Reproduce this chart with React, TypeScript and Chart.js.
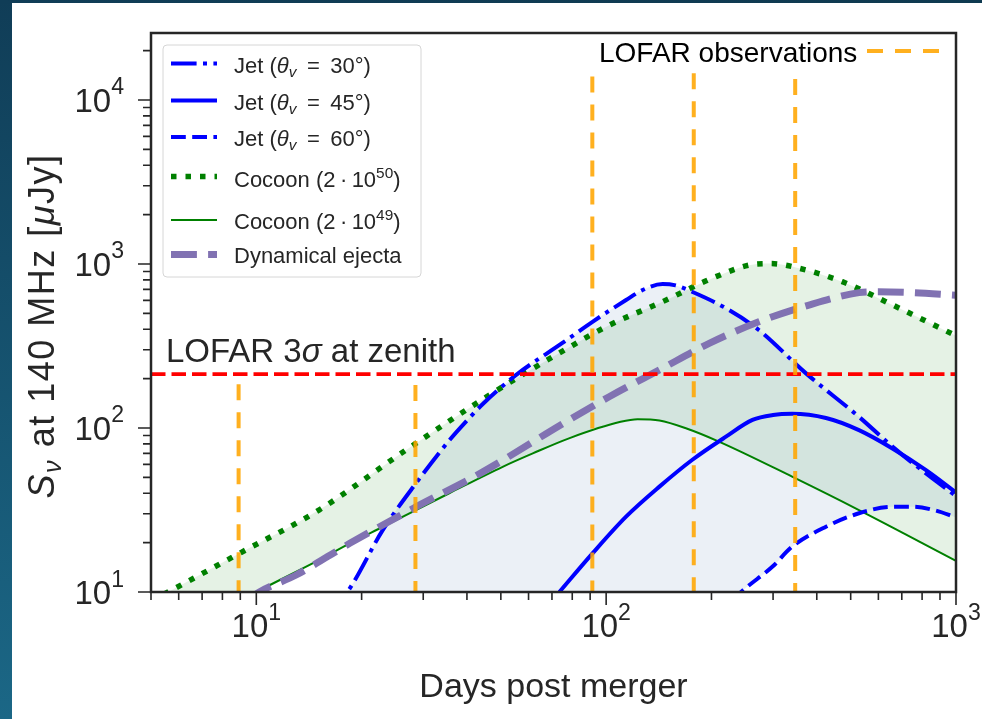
import React, { useEffect, useRef } from 'react';
import { Chart, registerables } from 'chart.js';

Chart.register(...registerables);

// ---------------- data ----------------
const jet30Days = [16, 18.2, 23, 28.6, 35.6, 40, 44.4, 55.2, 75, 91.4, 114, 127, 145, 158, 176, 220, 273, 372, 528, 658, 819, 1000];
const jet30Flux = [7.5, 10, 23.9, 46, 84, 111, 140, 210, 330, 444, 603, 693, 755, 740, 677, 537, 396, 216, 117, 77, 53, 38.5];

const jet45Days = [73.5, 91.4, 114, 142, 176, 220, 262, 300, 340, 425, 528, 658, 819, 1000];
const jet45Flux = [10, 17.2, 28.8, 43.9, 63.8, 88.5, 112, 120, 122, 115, 97, 75, 55.5, 40.5];

const jet60Days = [16, 60, 150, 243, 299, 340, 425, 528, 658, 750, 870, 1000];
const jet60Flux = [0.5, 1, 3.5, 10, 14.3, 18.9, 25, 30.2, 33.1, 33.1, 31.5, 28.5];

const cocoon50Days = [5, 5.84, 9.04, 15.1, 26.8, 47.3, 77.5, 101, 145, 206, 270, 296, 356, 473, 673, 1000];
const cocoon50Flux = [8.8, 10.5, 17.4, 31.6, 73.5, 163, 306, 419, 589, 837, 1000, 1005, 942, 780, 550, 365];

const cocoon49Days = [5, 10, 14.8, 18.5, 23, 35.6, 50.6, 61.7, 78.3, 110, 123, 142, 169, 210, 340, 528, 1000];
const cocoon49Flux = [4.5, 10, 15.3, 19.8, 25, 40, 58, 70, 86.5, 109, 113, 111, 99.6, 82.6, 50.5, 31.6, 15.5];

const ejectaDays = [9.5, 10.2, 13, 18.5, 28.6, 44.4, 76.7, 102, 142, 197, 273, 380, 528, 590, 735, 1000];
const ejectaFlux = [9, 10, 12.7, 19.8, 33, 54, 109, 155, 226, 328, 444, 562, 669, 677, 670, 645];

const lofarSigmaFlux = 213;
const lofarObsDays = [8.9, 28.5, 91.3, 178, 347];
const lofarObsTop = [185, 183, 13890, 14560, 13430];

const xRange = [5, 1000];
const yRange = [10, 25600];
const xMajorTicks = [10, 100, 1000];
const yMajorTicks = [10, 100, 1000, 10000];

type Run = { t: string; it?: boolean; sup?: boolean; sub?: boolean };

const TH = '\u2009';
const legendLabels: Run[][] = [
  [{ t: 'Jet (' }, { t: 'θ', it: true }, { t: 'v', it: true, sub: true }, { t: ` ${TH}=${TH} 30` }, { t: '°' }, { t: ')' }],
  [{ t: 'Jet (' }, { t: 'θ', it: true }, { t: 'v', it: true, sub: true }, { t: ` ${TH}=${TH} 45` }, { t: '°' }, { t: ')' }],
  [{ t: 'Jet (' }, { t: 'θ', it: true }, { t: 'v', it: true, sub: true }, { t: ` ${TH}=${TH} 60` }, { t: '°' }, { t: ')' }],
  [{ t: `Cocoon (2${TH}·${TH}10` }, { t: '50', sup: true }, { t: ')' }],
  [{ t: `Cocoon (2${TH}·${TH}10` }, { t: '49', sup: true }, { t: ')' }],
  [{ t: 'Dynamical ejecta' }],
];
const xTitle: Run[] = [{ t: 'Days post merger' }];
const yTitle: Run[] = [{ t: 'S', it: true }, { t: 'ν', it: true, sub: true }, { t: ' at 140 MHz [' }, { t: 'μ', it: true }, { t: 'Jy]' }];
const sigmaLabel: Run[] = [{ t: 'LOFAR 3' }, { t: 'σ', it: true }, { t: ' at zenith' }];
const obsLabel = 'LOFAR observations';

const pts = (xs: number[], ys: number[]) => xs.map((x, i) => ({ x, y: ys[i] }));

// ---------------- text helpers ----------------
const FAMILY = '"Liberation Sans", Arial, Helvetica, sans-serif';
function runFont(r: Run, size: number) {
  const s = r.sup || r.sub ? size * 0.7 : size;
  return `${r.it ? 'italic ' : ''}${s}px ${FAMILY}`;
}
function measureRuns(ctx: CanvasRenderingContext2D, runs: Run[], size: number) {
  let w = 0;
  for (const r of runs) {
    ctx.font = runFont(r, size);
    w += ctx.measureText(r.t).width;
  }
  return w;
}
function drawRuns(ctx: CanvasRenderingContext2D, runs: Run[], x: number, y: number, size: number, supRaise = 0.45) {
  let cx = x;
  ctx.textAlign = 'left';
  ctx.textBaseline = 'alphabetic';
  for (const r of runs) {
    ctx.font = runFont(r, size);
    const dy = r.sup ? -supRaise * size : r.sub ? 0.2 * size : 0;
    ctx.fillText(r.t, cx, y + dy);
    cx += ctx.measureText(r.t).width;
  }
  return cx;
}

const TEXT = '#262626';

const bgPlugin = {
  id: 'bg',
  beforeDraw(chart: any) {
    const { ctx, width, height } = chart;
    ctx.save();
    ctx.fillStyle = '#ffffff';
    ctx.fillRect(0, 0, width, height);
    const g = ctx.createLinearGradient(0, 0, 0, height);
    g.addColorStop(0, '#103d57');
    g.addColorStop(1, '#1b6786');
    ctx.fillStyle = g;
    ctx.fillRect(0, 0, 12, height);
    const g2 = ctx.createLinearGradient(0, 0, width, 0);
    g2.addColorStop(0, '#103d57');
    g2.addColorStop(1, '#0f3a50');
    ctx.fillStyle = g2;
    ctx.fillRect(0, 0, width, 3);
    ctx.restore();
  },
};

const overlayPlugin = {
  id: 'overlay',
  afterDraw(chart: any) {
    const { ctx, chartArea: a } = chart;
    const xs = chart.scales.x;
    const ys = chart.scales.y;
    ctx.save();

    // ticks
    ctx.strokeStyle = TEXT;
    ctx.lineWidth = 1.6;
    ctx.beginPath();
    for (let d = 1; d <= 1000; d *= 10) {
      for (let m = 1; m <= 9; m++) {
        const v = m * d;
        if (v >= xRange[0] && v <= xRange[1]) {
          const px = xs.getPixelForValue(v);
          const len = m === 1 ? 13 : 8;
          ctx.moveTo(px, a.bottom);
          ctx.lineTo(px, a.bottom + len);
        }
      }
    }
    for (let d = 10; d <= 100000; d *= 10) {
      for (let m = 1; m <= 9; m++) {
        const v = m * d;
        if (v >= yRange[0] && v <= yRange[1]) {
          const py = ys.getPixelForValue(v);
          const len = m === 1 ? 13 : 8;
          ctx.moveTo(a.left, py);
          ctx.lineTo(a.left - len, py);
        }
      }
    }
    ctx.stroke();

    // frame
    ctx.lineWidth = 2.5;
    ctx.strokeRect(a.left, a.top, a.right - a.left, a.bottom - a.top);

    // tick labels
    ctx.fillStyle = TEXT;
    const TS = 33;
    for (const v of xMajorTicks) {
      const runs: Run[] = [{ t: '10' }, { t: String(Math.round(Math.log10(v))), sup: true }];
      const w = measureRuns(ctx, runs, TS);
      drawRuns(ctx, runs, xs.getPixelForValue(v) - w / 2, 637, TS, 0.53);
    }
    for (const v of yMajorTicks) {
      const runs: Run[] = [{ t: '10' }, { t: String(Math.round(Math.log10(v))), sup: true }];
      const w = measureRuns(ctx, runs, TS);
      drawRuns(ctx, runs, 124 - w, ys.getPixelForValue(v) + 12, TS, 0.53);
    }

    // axis titles
    const AS = 34;
    const xw = measureRuns(ctx, xTitle, AS);
    drawRuns(ctx, xTitle, (a.left + a.right) / 2 - xw / 2, 697, AS);
    ctx.save();
    const YS = 36;
    (ctx as any).letterSpacing = '1.5px';
    const yw = measureRuns(ctx, yTitle, YS);
    ctx.translate(54, 326);
    ctx.rotate(-Math.PI / 2);
    drawRuns(ctx, yTitle, -yw / 2, 0, YS);
    (ctx as any).letterSpacing = '0px';
    ctx.restore();

    // LOFAR 3 sigma label
    drawRuns(ctx, sigmaLabel, 166, 362, 33);

    // LOFAR observations legend
    ctx.fillStyle = '#000000';
    ctx.font = `28px ${FAMILY}`;
    ctx.textAlign = 'left';
    ctx.fillText(obsLabel, 599, 62);
    const obsDs = chart.data.datasets[0];
    ctx.strokeStyle = obsDs.borderColor;
    ctx.lineWidth = obsDs.borderWidth;
    ctx.setLineDash(obsDs.borderDash);
    ctx.beginPath();
    ctx.moveTo(867, 51);
    ctx.lineTo(940, 51);
    ctx.stroke();
    ctx.setLineDash([]);

    // main legend
    ctx.beginPath();
    (ctx as any).roundRect(163, 45, 258, 232, 4);
    ctx.fillStyle = 'rgba(255,255,255,0.8)';
    ctx.fill();
    ctx.strokeStyle = '#d6d6d6';
    ctx.lineWidth = 1;
    ctx.stroke();
    const legendIdx = [7, 8, 9, 10, 11, 6];
    const lineY = [63.5, 100.5, 137, 176.5, 220, 254.5];
    const textY = [73, 109.5, 145.5, 187, 229, 263];
    legendIdx.forEach((di, i) => {
      const ds = chart.data.datasets[di];
      ctx.strokeStyle = ds.borderColor;
      ctx.lineWidth = ds.borderWidth;
      ctx.setLineDash(ds.borderDash || []);
      ctx.beginPath();
      ctx.moveTo(171, lineY[i]);
      ctx.lineTo(217, lineY[i]);
      ctx.stroke();
      ctx.setLineDash([]);
      ctx.fillStyle = TEXT;
      drawRuns(ctx, legendLabels[i], 234, textY[i], 22, 0.4);
    });

    ctx.restore();
  },
};

export default function App() {
  const ref = useRef<HTMLCanvasElement>(null);
  useEffect(() => {
    if (!ref.current) return;
    const orange = 'rgba(255,165,0,0.88)';
    const obsSets = lofarObsDays.map((d, i) => ({
      label: 'obs' + i,
      data: [{ x: d, y: lofarObsTop[i] }, { x: d, y: yRange[0] }],
      borderColor: orange,
      borderWidth: 4,
      borderDash: [16, 12],
      tension: 0,
      fill: false,
    }));
    const curve = (label: string, data: any[], color: string, width: number, dash: number[], extra: any = {}) => ({
      label,
      data,
      borderColor: color,
      borderWidth: width,
      borderDash: dash,
      cubicInterpolationMode: 'monotone',
      fill: false,
      ...extra,
    });
    const blueFill = 'rgba(76,114,176,0.11)';
    const greenFill = 'rgba(0,128,0,0.1)';
    const datasets: any[] = [
      ...obsSets, // 0-4
      {
        label: 'sigma',
        data: [{ x: xRange[0], y: lofarSigmaFlux }, { x: xRange[1], y: lofarSigmaFlux }],
        borderColor: '#ff0000',
        borderWidth: 3.7,
        borderDash: [14.5, 6],
        tension: 0,
        fill: false,
      }, // 5
      curve('Dynamical ejecta', pts(ejectaDays, ejectaFlux), '#8172b2', 7, [25.9, 11.2]), // 6
      curve('Jet 30', pts(jet30Days, jet30Flux), '#0000ff', 4, [25.6, 6.4, 4, 6.4], {
        fill: { target: 9, above: blueFill, below: blueFill },
        backgroundColor: blueFill,
      }), // 7
      curve('Jet 45', pts(jet45Days, jet45Flux), '#0000ff', 4, []), // 8
      curve('Jet 60', pts(jet60Days, jet60Flux), '#0000ff', 4, [14.8, 6.4]), // 9
      curve('Cocoon 50', pts(cocoon50Days, cocoon50Flux), '#008000', 5.5, [5.5, 9], {
        fill: { target: 11, above: greenFill, below: greenFill },
        backgroundColor: greenFill,
      }), // 10
      curve('Cocoon 49', pts(cocoon49Days, cocoon49Flux), '#008000', 2, []), // 11
    ];
    datasets.forEach((d) => {
      d.pointRadius = 0;
      d.clip = 0;
    });
    const chart = new Chart(ref.current, {
      type: 'line',
      data: { datasets },
      options: {
        animation: false,
        responsive: false,
        devicePixelRatio: 1,
        layout: { padding: { left: 151, top: 33, right: 26, bottom: 127 } },
        scales: {
          x: { type: 'logarithmic', min: xRange[0], max: xRange[1], display: false },
          y: { type: 'logarithmic', min: yRange[0], max: yRange[1], display: false },
        },
        plugins: {
          legend: { display: false },
          tooltip: { enabled: false },
          filler: { propagate: false, drawTime: 'beforeDatasetsDraw' },
        } as any,
        events: [],
      } as any,
      plugins: [bgPlugin, overlayPlugin],
    });
    return () => chart.destroy();
  }, []);
  return (
    <div style={{ position: 'fixed', left: 0, top: 0, width: 982, height: 719 }}>
      <canvas ref={ref} width={982} height={719} style={{ display: 'block', width: 982, height: 719 }} />
    </div>
  );
}
